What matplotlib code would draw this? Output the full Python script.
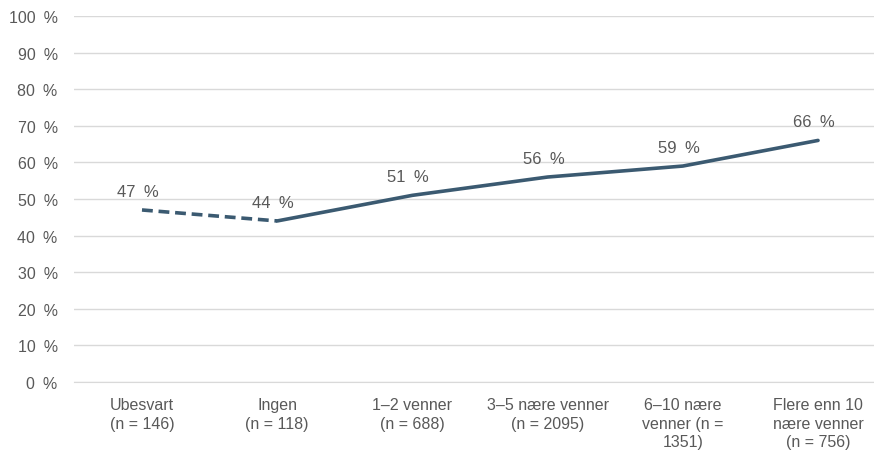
import matplotlib
matplotlib.use("Agg")
import matplotlib.pyplot as plt

plt.rcParams['font.family'] = ['Liberation Sans', 'DejaVu Sans']

categories = ["Ubesvart\n(n = 146)", "Ingen\n(n = 118)", "1–2 venner\n(n = 688)",
              "3–5 nære venner\n(n = 2095)", "6–10 nære\nvenner (n =\n1351)",
              "Flere enn 10\nnære venner\n(n = 756)"]
values = [47, 44, 51, 56, 59, 66]
yticks = [0, 10, 20, 30, 40, 50, 60, 70, 80, 90, 100]
ytick_labels = [f"{v}\u2002%" for v in yticks]

line_color = "#3B5A71"
text_color = "#595959"

fig = plt.figure(figsize=(8.74, 4.52), dpi=100)
ax = fig.add_axes([0.0851, 0.1527, 0.9149, 0.8097])

x = list(range(len(categories)))
ax.plot(x[:2], values[:2], color=line_color, lw=2.6, ls=(0, (3, 1.6)), solid_capstyle='butt', dash_capstyle='butt')
ax.plot(x[1:], values[1:], color=line_color, lw=2.6, solid_capstyle='round')

for xi, v in zip(x, values):
    ax.annotate(f"{v}\u2002%", (xi, v), xytext=(-3, 8), textcoords="offset points",
                ha="center", va="bottom", fontsize=12, color=text_color)

ax.set_xlim(-0.5, 5.414)
ax.set_ylim(0, 100)
ax.set_yticks(yticks)
ax.set_yticklabels(ytick_labels)
ax.set_xticks(x)
ax.set_xticklabels(categories, linespacing=1.3)
ax.tick_params(axis='both', length=0, colors=text_color, labelsize=11.5)
ax.tick_params(axis='x', pad=11)
ax.tick_params(axis='y', pad=12)
ax.grid(axis='y', color="#D9D9D9", lw=1)
ax.set_axisbelow(True)
for s in ["top", "right", "left"]:
    ax.spines[s].set_visible(False)
ax.spines["bottom"].set_color("#D9D9D9")

fig.savefig("out.png", dpi=100)
